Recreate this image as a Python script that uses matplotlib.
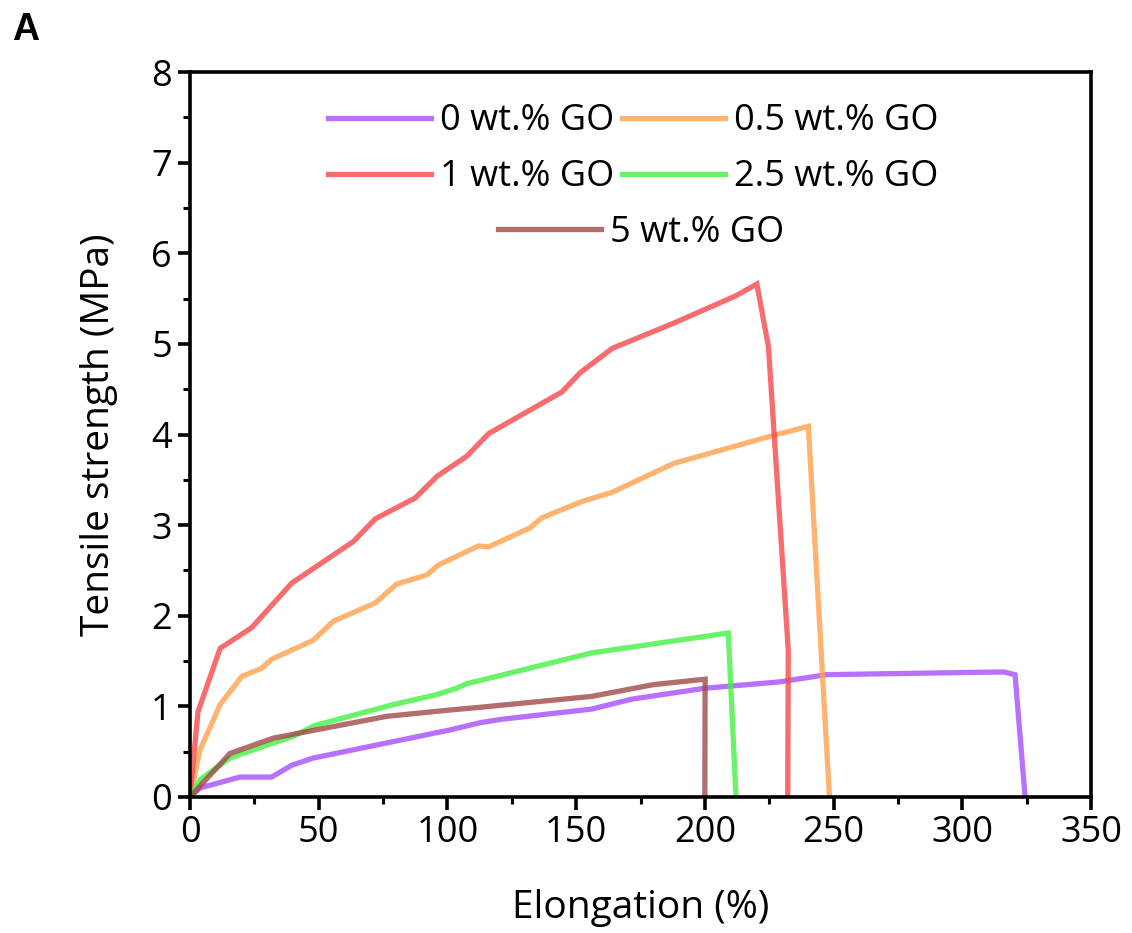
import numpy as np
import matplotlib.pyplot as plt
from matplotlib.ticker import MultipleLocator

# elongation (%) / tensile strength (MPa)
x_go0 = [0, 3.9, 19.4, 31.7, 39.5, 47.9, 101, 112.7, 121.7, 156, 171.6, 200, 229, 247.3, 316, 320.5, 324.4]
y_go0 = [0, 0.10, 0.22, 0.22, 0.35, 0.43, 0.74, 0.82, 0.86, 0.97, 1.08, 1.20, 1.27, 1.35, 1.38, 1.35, 0]

x_go05 = [0, 3.9, 11.7, 20.1, 27.8, 31.7, 47.9, 55.7, 71.9, 80.3, 92, 96.5, 112, 116, 132.1, 136.6, 152.2, 163.8, 187.8, 225.3, 240.2, 248.4]
y_go05 = [0, 0.52, 1.02, 1.33, 1.42, 1.52, 1.73, 1.94, 2.14, 2.35, 2.45, 2.56, 2.77, 2.76, 2.97, 3.08, 3.26, 3.36, 3.68, 3.98, 4.09, 0]

x_go1 = [0, 3.1, 11.7, 24, 39.5, 63.5, 72, 87.5, 96, 107.5, 116, 144.5, 151.5, 164, 188, 212, 220.2, 224.7, 232.4, 232.2]
y_go1 = [0, 0.94, 1.64, 1.87, 2.36, 2.82, 3.07, 3.30, 3.54, 3.76, 4.01, 4.47, 4.68, 4.95, 5.23, 5.53, 5.66, 4.97, 1.62, 0]

x_go25 = [0, 3.9, 15.5, 31.7, 40.1, 48.6, 79, 95.8, 103.6, 107.5, 156, 209.1, 212.1]
y_go25 = [0, 0.19, 0.43, 0.59, 0.67, 0.79, 1.02, 1.13, 1.20, 1.25, 1.59, 1.81, 0]

x_go5 = [0, 15.5, 32.4, 41.5, 76.4, 101, 112.7, 156, 180, 200.1, 200]
y_go5 = [0, 0.48, 0.65, 0.70, 0.89, 0.96, 0.99, 1.11, 1.24, 1.30, 0]

labels = ['0 wt.% GO', '0.5 wt.% GO', '1 wt.% GO', '2.5 wt.% GO', '5 wt.% GO']
colors = ['#a64dff', '#ffa04d', '#f54848', '#44f044', '#a04848']

plt.rcParams['font.family'] = ['Open Sans', 'DejaVu Sans']

fig = plt.figure(figsize=(11.32, 9.33), dpi=100)
ax = fig.add_axes([190 / 1132, 1 - 797 / 933, 901 / 1132, 725 / 933])

series = [(x_go0, y_go0), (x_go05, y_go05), (x_go1, y_go1), (x_go25, y_go25), (x_go5, y_go5)]
lines = []
for (xs, ys), lab, c in zip(series, labels, colors):
    ln, = ax.plot(xs, ys, color=c, lw=3.8, alpha=0.8, label=lab, solid_joinstyle='miter')
    lines.append(ln)

ax.set_xlim(0, 350)
ax.set_ylim(0, 8)
ax.xaxis.set_major_locator(MultipleLocator(50))
ax.xaxis.set_minor_locator(MultipleLocator(25))
ax.yaxis.set_major_locator(MultipleLocator(1))
ax.yaxis.set_minor_locator(MultipleLocator(0.5))
ax.tick_params(which='major', direction='out', length=9, width=2.6, labelsize=26, pad=4)
ax.tick_params(which='minor', direction='out', length=5, width=2.2)
for s in ax.spines.values():
    s.set_linewidth(2.6)

ax.set_xlabel('Elongation (%)', fontsize=28, labelpad=27)
ax.set_ylabel('Tensile strength (MPa)', fontsize=28, labelpad=24)

leg_kw = dict(frameon=False, fontsize=26, handlelength=2.85, handletextpad=0.25,
              columnspacing=0.22, labelspacing=0.56, borderpad=0)
# ncol=2 fills column-wise: order so rows read 0 | 0.5, 1 | 2.5
leg1 = ax.legend(handles=[lines[0], lines[2], lines[1], lines[3]], ncol=2, loc='center',
                 bbox_to_anchor=(0.4917, 0.8934), **leg_kw)
ax.add_artist(leg1)
ax.legend(handles=lines[4:], loc='center', bbox_to_anchor=(0.5011, 0.7786), **leg_kw)

fig.text(12 / 1132, 1 - 40 / 933, 'A', fontsize=27, fontweight='bold',
         family='Liberation Sans')

fig.savefig('out.png', dpi=100)
